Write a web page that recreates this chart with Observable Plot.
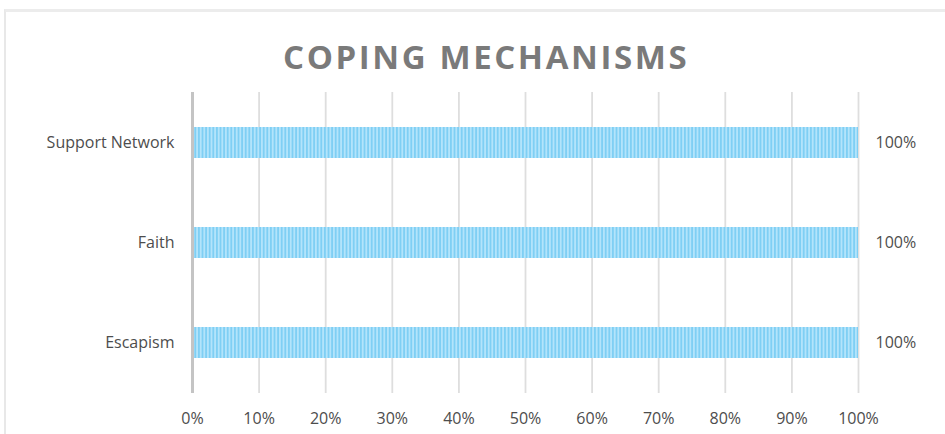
<!DOCTYPE html>
<html>
<head>
<meta charset="utf-8">
<script src="https://cdn.jsdelivr.net/npm/d3@7"></script>
<script src="https://cdn.jsdelivr.net/npm/@observablehq/plot@0.6"></script>
<style>
  html, body { margin: 0; padding: 0; background: #fff; }
  body { width: 945px; height: 434px; position: relative; overflow: hidden; font-family: "Open Sans", sans-serif; }
  #frame { position: absolute; left: 4px; top: 9px; width: 960px; height: 440px;
           border-top: 3px solid #ececec; border-left: 2px solid #e8e8e8; box-sizing: border-box; }
  #title { position: relative; height: 80px; margin: 0; padding: 0; }
  #title span { position: absolute; left: 283px; top: 40px; font-size: 33px; font-weight: 700;
                letter-spacing: 2.6px; color: #7a7a7a; line-height: 1; white-space: nowrap; }
  #chart { position: relative; }
  #chart svg { display: block; }
</style>
</head>
<body>
<div id="frame"></div>
<div id="title"><span>COPING MECHANISMS</span></div>
<div id="chart"></div>
<script>
const categories = ["Support Network", "Faith", "Escapism"];
const values = [1, 1, 1];
const valueLabels = ["100%", "100%", "100%"];
const xTicks = [0, 0.1, 0.2, 0.3, 0.4, 0.5, 0.6, 0.7, 0.8, 0.9, 1];

const data = categories.map((c, i) => ({category: c, value: values[i], label: valueLabels[i]}));

const chart = Plot.plot({
  width: 945,
  height: 354,
  marginTop: 12,
  marginBottom: 41,
  marginLeft: 192,
  marginRight: 87,
  style: {fontFamily: "'Open Sans', sans-serif", fontSize: "16px", color: "#4d4d4d", background: "transparent"},
  x: {domain: [0, 1], ticks: xTicks, tickFormat: d3.format(".0%"), label: null, tickSize: 0, tickPadding: 19},
  y: {domain: categories, label: null, paddingInner: 0.69, paddingOuter: 0.345, tickSize: 0, tickPadding: 18},
  marks: [
    Plot.gridX(xTicks, {stroke: "#dedede", strokeOpacity: 1, strokeWidth: 1.8}),
    Plot.barX(data, {x: "value", y: "category", fill: "#9fdaf7"}),
    Plot.ruleX([0], {stroke: "#c4c4c4", strokeWidth: 3}),
    Plot.text(data, {x: "value", y: "category", text: "label", textAnchor: "start", dx: 17, fill: "#4d4d4d"}),
    Plot.axisX({ticks: xTicks, tickFormat: d3.format(".0%"), tickSize: 0, tickPadding: 19, fill: "#4d4d4d"}),
    Plot.axisY({tickSize: 0, tickPadding: 18, fill: "#4d4d4d"})
  ]
});

const svg = d3.select(chart);
svg.insert("defs", ":first-child").html(
  '<pattern id="stripes" patternUnits="userSpaceOnUse" x="0" y="0" width="3.6" height="10">' +
  '<rect width="3.6" height="10" fill="#b3e4fb"></rect>' +
  '<rect width="1.8" height="10" fill="#7fcff4"></rect>' +
  '</pattern>'
);
svg.selectAll("g[aria-label='bar'] rect").attr("fill", "url(#stripes)");
document.getElementById("chart").appendChild(chart);
</script>
</body>
</html>
